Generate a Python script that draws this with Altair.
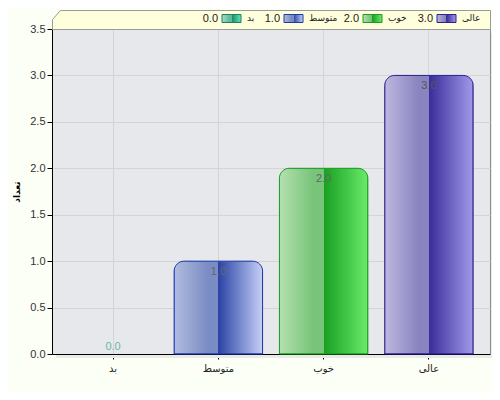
import altair as alt
import pandas as pd

# ---- data ----
categories = ["بد", "متوسط", "خوب", "عالی"]
values = [0.0, 1.0, 2.0, 3.0]
y_ticks = [0, 0.5, 1.0, 1.5, 2.0, 2.5, 3.0, 3.5]
y_title = "تعداد"

df = pd.DataFrame({"cat": categories, "value": values})
df["label"] = df["value"].map(lambda v: f"{v:.1f}")

# ---- styles ----
STYLE = {
    "بد":    dict(light="#A6DCCB", mid="#62BA9C", dark="#118A68", end="#64E2B4", stroke="#1F8060", text="#6CB8A0"),
    "متوسط": dict(light="#B2BCE0", mid="#7A8CC4", dark="#2A44A6", end="#C6D0F6", stroke="#1E3AA8", text="#666666"),
    "خوب":   dict(light="#B4E0B0", mid="#78C47A", dark="#18A022", end="#6AEA6A", stroke="#1E9A1E", text="#666666"),
    "عالی":  dict(light="#BCB8DE", mid="#8A84C0", dark="#3A2C9A", end="#A09AEA", stroke="#2A2090", text="#555555"),
}
LEGEND_SWATCH_X = [170, 232, 311, 385]
W, H = 438, 325
BG = "#FBFFF5"


def grad(s):
    return alt.LinearGradient(
        gradient="linear", x1=0, x2=1, y1=0, y2=0,
        stops=[
            alt.GradientStop(color=s["light"], offset=0),
            alt.GradientStop(color=s["mid"], offset=0.38),
            alt.GradientStop(color=s["mid"], offset=0.5),
            alt.GradientStop(color=s["dark"], offset=0.5),
            alt.GradientStop(color=s["end"], offset=1),
        ],
    )


x_enc = alt.X(
    "cat:N", sort=categories,
    scale=alt.Scale(domain=categories, paddingInner=0.16, paddingOuter=0.16),
    axis=alt.Axis(title=None, labelAngle=0, bandPosition=0.5, grid=True,
                  labelFont="DejaVu Sans", labelFontSize=10, labelColor="#222",
                  tickSize=5, labelPadding=4),
)
y_enc = alt.Y(
    "value:Q",
    scale=alt.Scale(domain=[0, 3.5], nice=False),
    axis=alt.Axis(title=y_title, values=y_ticks, format=".1f", tickSize=5,
                  titleFont="DejaVu Sans", titleFontSize=9, titleFontWeight="bold",
                  titleColor="#000", titlePadding=8, labelFont="Liberation Sans",
                  labelFontSize=11, labelColor="#333"),
)

base = alt.Chart(df)
layers = []

# legend box (cut corner)
box = alt.Chart(pd.DataFrame({"k": [0]})).mark_point(
    shape="M0 9 L8 0 L438 0 L438 19 L0 19 Z", size=4, filled=True,
    fill="#FFFFDC", stroke="#9A9A9A", strokeWidth=1, opacity=1,
).encode(x=alt.value(0.5), y=alt.value(-18.5))
layers.append(box)

# shadows
sh = alt.Chart(pd.DataFrame({"k": [0]}))
layers.append(sh.mark_rect(color="#E9EBE6").encode(
    x=alt.value(W + 1), x2=alt.value(W + 5), y=alt.value(4), y2=alt.value(H + 4)))
layers.append(sh.mark_rect(color="#E9EBE6").encode(
    x=alt.value(4), x2=alt.value(W + 5), y=alt.value(H + 1), y2=alt.value(H + 4)))

for c in categories:
    s = STYLE[c]
    sub = base.transform_filter(alt.datum.cat == c).transform_filter(alt.datum.value > 0)
    layers.append(sub.mark_bar(
        fill=grad(s), stroke=s["stroke"], strokeWidth=1,
        cornerRadiusTopLeft=10, cornerRadiusTopRight=10,
    ).encode(x=x_enc, y=y_enc))

# value labels
for c in categories:
    s = STYLE[c]
    sub = base.transform_filter(alt.datum.cat == c)
    v = values[categories.index(c)]
    layers.append(sub.mark_text(
        font="Liberation Sans", fontSize=11, color=s["text"],
        baseline="middle", dy=(11 if v > 0 else -7),
    ).encode(x=x_enc, y=y_enc, text="label:N"))

# legend items
for c, sx in zip(categories, LEGEND_SWATCH_X):
    s = STYLE[c]
    sub = base.transform_filter(alt.datum.cat == c)
    layers.append(sub.mark_rect(fill=grad(s), stroke=s["stroke"], strokeWidth=1).encode(
        x=alt.value(sx), x2=alt.value(sx + 19), y=alt.value(-14.5), y2=alt.value(-6.5)))
    layers.append(sub.mark_text(font="Liberation Sans", fontSize=11, color="#222",
                                align="right", baseline="middle").encode(
        x=alt.value(sx - 4), y=alt.value(-10), text="label:N"))
    layers.append(sub.mark_text(font="DejaVu Sans", fontSize=9, color="#222",
                                align="left", baseline="middle").encode(
        x=alt.value(sx + 25), y=alt.value(-11), text="cat:N"))

chart = alt.layer(*layers).properties(
    width=W, height=H,
    padding={"left": 44, "top": 21, "right": 2, "bottom": 38},
    autosize=alt.AutoSizeParams(type="none"),
    background=BG,
).configure_view(
    fill="#E6E8EC", stroke="#8C8C8C", strokeWidth=1,
).configure_axis(
    domainColor="#000", tickColor="#000", gridColor="#D2D4D8", gridWidth=1,
)

chart.save("out.html", embed_options={"renderer": "svg", "actions": False})
